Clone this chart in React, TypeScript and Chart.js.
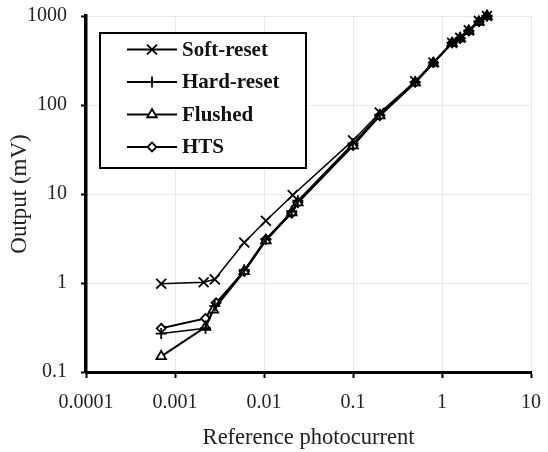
import React, { useEffect, useRef } from 'react';
import { Chart, registerables } from 'chart.js';
import { drawPoint } from 'chart.js/helpers';

Chart.register(...registerables);

const seriesNames = ['Soft-reset', 'Hard-reset', 'Flushed', 'HTS'];

const softX = [0.0007, 0.0021, 0.0028, 0.006, 0.0105, 0.021, 0.1, 0.2, 0.5, 0.8, 1.3, 1.6, 2.0, 2.6, 3.2];
const softY = [0.98, 1.02, 1.1, 2.85, 5.0, 9.7, 40, 82, 185, 300, 500, 570, 690, 880, 1000];

const hardX = [0.0007, 0.0022, 0.0028, 0.006, 0.0105, 0.0205, 0.024, 0.1, 0.2, 0.5, 0.8, 1.3, 1.6, 2.0, 2.6, 3.2];
const hardY = [0.27, 0.31, 0.55, 1.4, 3.1, 6.4, 8.4, 37, 78, 182, 300, 500, 565, 685, 870, 1000];

const flushedX = [0.0007, 0.0022, 0.0027, 0.006, 0.0105, 0.0205, 0.024, 0.1, 0.2, 0.5, 0.8, 1.3, 1.6, 2.0, 2.6, 3.2];
const flushedY = [0.15, 0.32, 0.5, 1.35, 3.0, 6.2, 8.0, 35, 76, 178, 295, 495, 560, 680, 860, 1000];

const htsX = [0.0007, 0.0022, 0.0029, 0.006, 0.0105, 0.0205, 0.024, 0.1, 0.2, 0.5, 0.8, 1.3, 1.6, 2.0, 2.6, 3.2];
const htsY = [0.31, 0.4, 0.6, 1.35, 3.1, 6.1, 8.0, 35, 76, 180, 300, 500, 560, 680, 860, 1000];

const xTickValues = [0.0001, 0.001, 0.01, 0.1, 1, 10];
const xTickLabels = ['0.0001', '0.001', '0.01', '0.1', '1', '10'];
const yTickValues = [0.1, 1, 10, 100, 1000];
const yTickLabels = ['0.1', '1', '10', '100', '1000'];

const xTitle = 'Reference photocurrent';
const yTitle = 'Output (mV)';

const pointStyles = ['crossRot', 'cross', 'triangle', 'rectRot'];
const pointRadii = [7, 5.5, 5.5, 4.5];

const toPts = (xs: number[], ys: number[]) => xs.map((x, i) => ({ x, y: ys[i] }));

const findLabel = (vals: number[], labels: string[], v: number) => {
  const i = vals.findIndex((t) => Math.abs(Math.log10(t) - Math.log10(v)) < 1e-6);
  return i >= 0 ? labels[i] : '';
};

const serif = "'Liberation Serif', 'DejaVu Serif', serif";

const legendPlugin = {
  id: 'boxLegend',
  afterDraw(chart: any) {
    const ctx = chart.ctx;
    const bx = 100, by = 33, bw = 206, bh = 135;
    ctx.save();
    ctx.fillStyle = '#fff';
    ctx.fillRect(bx, by, bw, bh);
    ctx.lineWidth = 2;
    ctx.strokeStyle = '#000';
    ctx.strokeRect(bx, by, bw, bh);
    const rows = [49.5, 82, 114.5, 147];
    chart.data.datasets.forEach((ds: any, i: number) => {
      const y = rows[i];
      ctx.beginPath();
      ctx.lineWidth = 2;
      ctx.strokeStyle = '#000';
      ctx.moveTo(127, y);
      ctx.lineTo(177, y);
      ctx.stroke();
      ctx.fillStyle = '#fff';
      ctx.strokeStyle = '#000';
      ctx.lineWidth = 1.8;
      drawPoint(ctx, { pointStyle: ds.pointStyle, radius: ds.pointRadius, rotation: 0, borderWidth: 1.8 } as any, 152, y);
      ctx.fillStyle = '#111';
      ctx.font = `bold 21px ${serif}`;
      ctx.textAlign = 'left';
      ctx.textBaseline = 'middle';
      ctx.fillText(ds.label, 182, y + 1);
    });
    ctx.restore();
  },
};

export default function App() {
  const ref = useRef<HTMLCanvasElement | null>(null);

  useEffect(() => {
    if (!ref.current) return;
    const data = [toPts(softX, softY), toPts(hardX, hardY), toPts(flushedX, flushedY), toPts(htsX, htsY)];
    const chart = new Chart(ref.current, {
      type: 'line',
      data: {
        datasets: seriesNames.map((name, i) => ({
          label: name,
          data: data[i],
          borderColor: '#000',
          backgroundColor: '#fff',
          borderWidth: i >= 2 ? 2 : 1.5,
          pointStyle: pointStyles[i] as any,
          pointRadius: pointRadii[i],
          pointBorderColor: '#000',
          pointBackgroundColor: '#fff',
          pointBorderWidth: 1.8,
          tension: 0,
          fill: false,
          clip: false as any,
        })),
      },
      options: {
        responsive: false,
        animation: false,
        devicePixelRatio: 1,
        layout: { padding: { top: 16, right: 17, left: 0, bottom: 0 } },
        plugins: {
          legend: { display: false },
          tooltip: { enabled: false },
        },
        scales: {
          x: {
            type: 'logarithmic',
            min: 0.0001,
            max: 10,
            afterBuildTicks: (s: any) => {
              s.ticks = xTickValues.map((v) => ({ value: v }));
            },
            afterFit: (s: any) => {
              s.height = 80;
              s.paddingLeft = 0;
              s.paddingRight = 0;
            },
            ticks: {
              callback: (v: any) => findLabel(xTickValues, xTickLabels, Number(v)),
              font: { family: serif, size: 20 },
              color: '#222',
              padding: 13,
              maxRotation: 0,
              autoSkip: false,
            },
            grid: { color: '#e8e8e8', lineWidth: 1, tickColor: '#000', tickLength: 6, tickWidth: 2 },
            border: { color: '#000', width: 3 },
            title: { display: true, text: xTitle, font: { family: serif, size: 22.5 }, color: '#222', padding: { top: 0, bottom: 0 } },
          },
          y: {
            type: 'logarithmic',
            min: 0.1,
            max: 1000,
            afterBuildTicks: (s: any) => {
              s.ticks = yTickValues.map((v) => ({ value: v }));
            },
            afterFit: (s: any) => {
              s.width = 86;
              s.paddingTop = 0;
              s.paddingBottom = 0;
            },
            ticks: {
              callback: (v: any) => findLabel(yTickValues, yTickLabels, Number(v)),
              font: { family: serif, size: 20 },
              color: '#222',
              padding: 14,
              autoSkip: false,
            },
            grid: { color: '#e8e8e8', lineWidth: 1, tickColor: '#000', tickLength: 5, tickWidth: 2 },
            border: { color: '#000', width: 3.5 },
            title: { display: true, text: yTitle, font: { family: serif, size: 23 }, color: '#222', padding: { top: 6, bottom: 0 } },
          },
        },
      },
      plugins: [legendPlugin],
    });
    return () => chart.destroy();
  }, []);

  return (
    <div style={{ position: 'absolute', left: 0, top: 0, width: 548, height: 452, background: '#fff' }}>
      <canvas ref={ref} width={548} height={452} />
    </div>
  );
}
